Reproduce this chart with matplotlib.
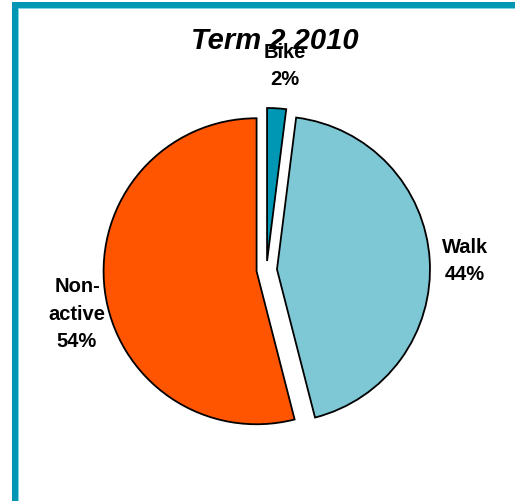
import matplotlib
matplotlib.use('Agg')
import matplotlib.pyplot as plt
from matplotlib.patches import Rectangle

# ---- data ----
categories = ['Bike', 'Walk', 'Non-\nactive']
values = [2, 44, 54]
pct_labels = ['2%', '44%', '54%']
title = 'Term 2 2010'

# ---- style / layout ----
colors = ['#0097B4', '#7EC8D6', '#FF5500']
W, H = 515, 502
fig = plt.figure(figsize=(W / 100, H / 100), dpi=100)
ax = fig.add_axes([0, 0, 1, 1])

cx, cy = 266.5, H - 271
radius = 153
explode = [9, 10.5, 10]
ax.pie(values, colors=colors, startangle=90, counterclock=False,
       center=(cx, cy), radius=radius, explode=explode,
       wedgeprops=dict(edgecolor='black', linewidth=1.3))
ax.set_xlim(0, W)
ax.set_ylim(0, H)
ax.set_aspect('auto')
ax.axis('off')

# frame (teal border, top and left)
teal = '#0096B4'
light = '#7FD3E6'
ax.add_patch(Rectangle((12, H - 9), W - 12, 6, color=teal, zorder=5, lw=0))
ax.add_patch(Rectangle((18, H - 10), W - 18, 1.2, color=light, zorder=5, lw=0))
ax.add_patch(Rectangle((12, 0), 6, H - 3, color=teal, zorder=5, lw=0))
ax.add_patch(Rectangle((18, 0), 1.2, H - 9, color=light, zorder=5, lw=0))

font = 'Liberation Sans'
ax.text(275, H - 41, title, ha='center', va='center', fontsize=21,
        fontweight='bold', fontstyle='italic', family=font, zorder=6)

label_pos = [(285, 66), (465, 261), (77, 314)]
for cat, pct, (lx, ly) in zip(categories, pct_labels, label_pos):
    ax.text(lx, H - ly, f'{cat}\n{pct}', ha='center', va='center',
            fontsize=14.5, fontweight='bold', family=font,
            linespacing=1.55, zorder=7)

fig.savefig('out.png', dpi=100)
